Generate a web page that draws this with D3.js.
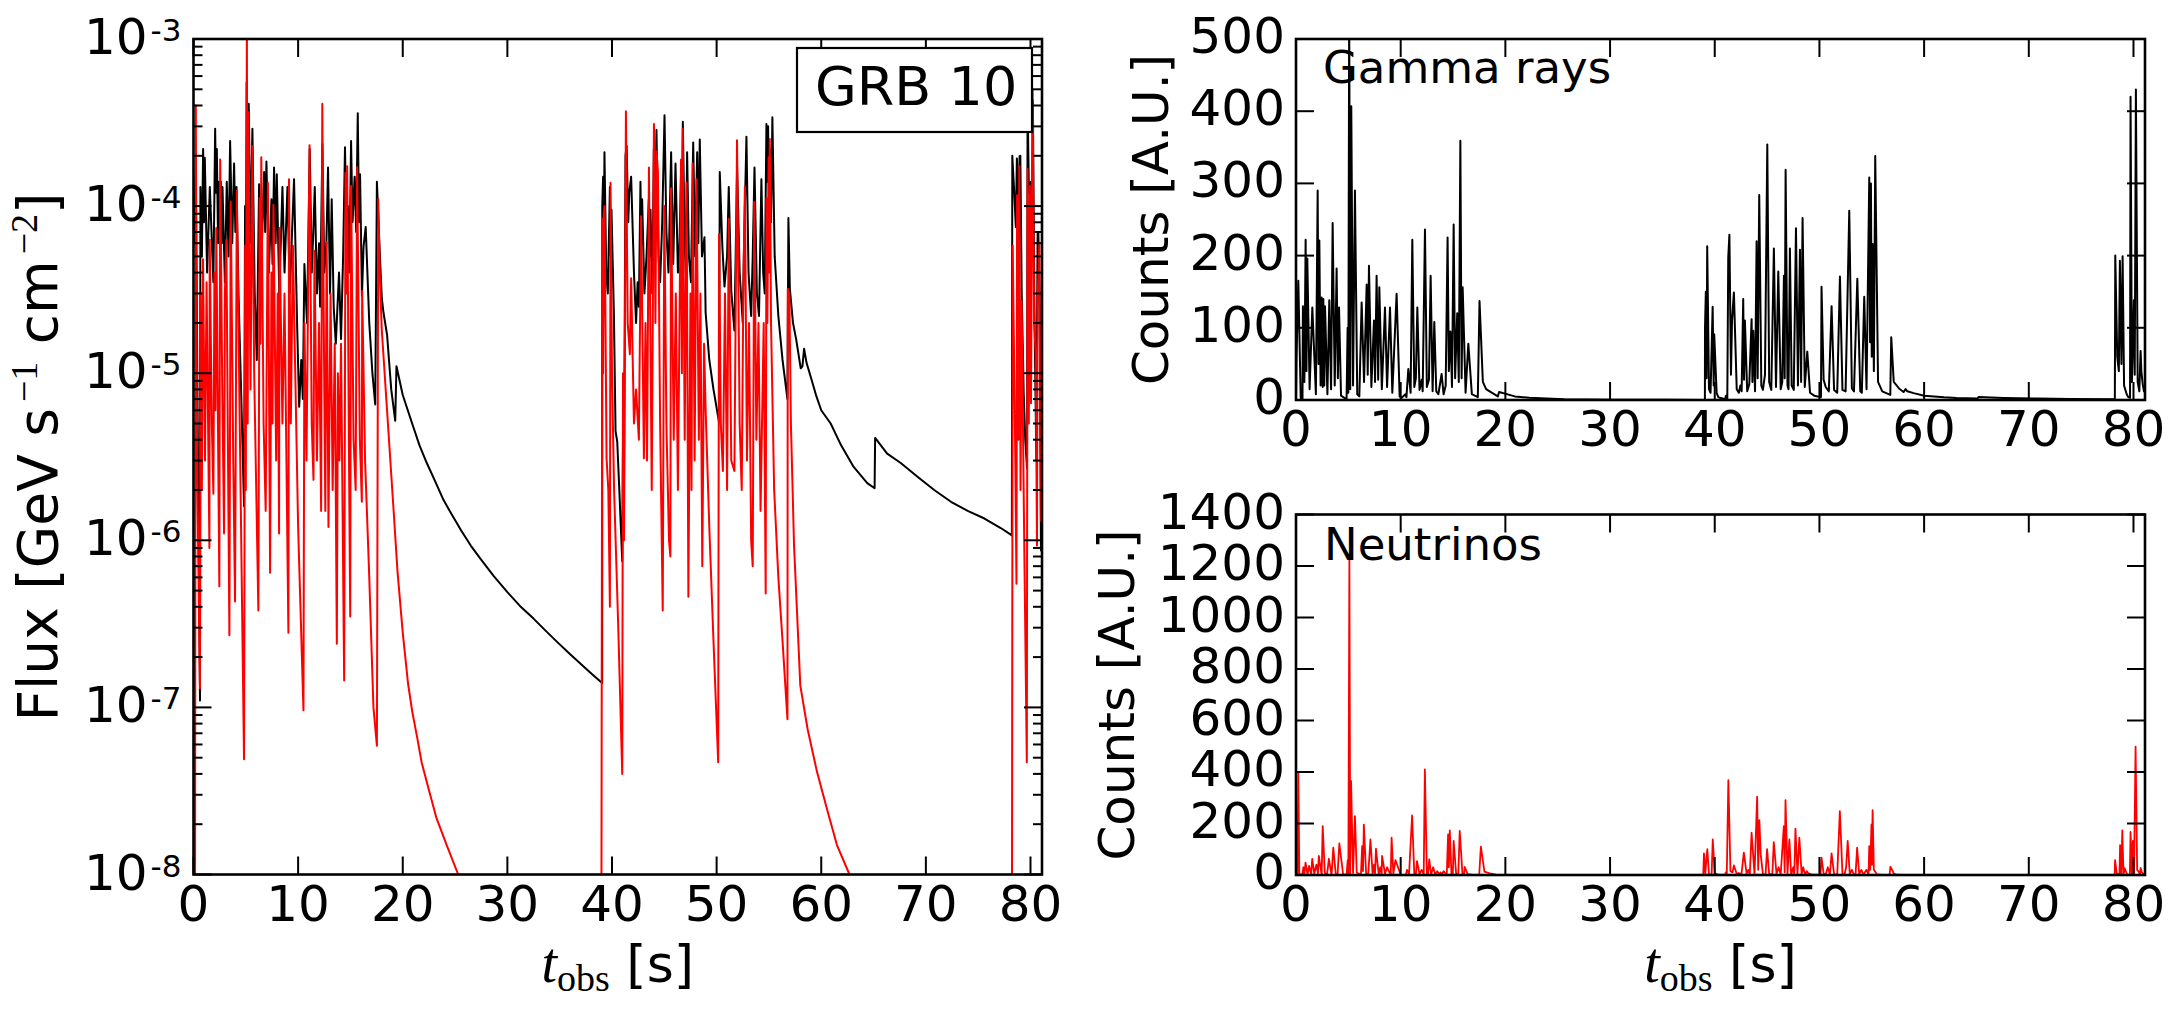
<!DOCTYPE html>
<html><head><meta charset="utf-8">
<script src="https://cdn.jsdelivr.net/npm/d3@7"></script>
<style>body{margin:0;background:#fff}svg{display:block}</style>
</head><body>
<svg id="c" width="2181" height="1011"></svg>
<script>
// ---------- tick definitions ----------
const xTicks = [0,10,20,30,40,50,60,70,80];
const fluxExps = [-8,-7,-6,-5,-4,-3];
const gammaTicks = [0,100,200,300,400,500];
const nuTicks = [0,200,400,600,800,1000,1200,1400];
const xMax = 81.1;

// ---------- left panel: gamma-ray flux (black), [t_obs, GeV s^-1 cm^-2] ----------
const gammaFlux = [
[0.05,6e-5],[0.22,1.65e-4],[0.45,2e-6],[0.62,1.1e-7],[0.66,1.3e-4],[0.8,5e-5],[0.92,2.2e-4],[1.0,8e-5],[1.08,1.95e-4],[1.3,4e-5],[1.56,1.3e-4],[1.9,3.5e-5],[2.07,2.9e-4],[2.15,1.2e-4],[2.23,2.2e-4],[2.35,6e-5],[2.45,1.4e-4],[2.55,5e-5],[2.61,1.4e-4],[2.7,6e-5],[2.77,1.3e-4],[3.0,3.5e-5],[3.18,1.4e-4],[3.35,5e-5],[3.5,2.45e-4],[3.7,6e-5],[3.88,1.8e-4],[4.0,7e-5],[4.11,1.3e-4],[4.3,3e-5],[4.6,6e-6],[4.83,1.6e-6],[4.93,1.0e-4],[5.0,3e-5],[5.08,5.5e-4],[5.18,5e-5],[5.28,4.1e-4],[5.45,6e-5],[5.63,2.9e-4],[5.85,3e-5],[6.05,1.2e-5],[6.27,1.35e-4],[6.5,5e-5],[6.75,1.6e-4],[6.85,7e-5],[6.97,1.85e-4],[7.2,4e-5],[7.45,1.1e-4],[7.55,4.5e-5],[7.7,1.7e-4],[7.85,6e-5],[7.96,1.55e-4],[8.2,3e-5],[8.5,1.3e-4],[8.7,4e-5],[8.98,1.3e-4],[9.2,3e-5],[9.61,1.45e-4],[9.9,2e-5],[10.1,6.3e-6],[10.3,1.2e-5],[10.45,7e-6],[10.6,4.5e-5],[10.85,2e-5],[11.11,2.2e-4],[11.3,4e-5],[11.45,7e-5],[11.59,1.3e-4],[11.8,3e-5],[12.0,6e-5],[12.1,2.5e-5],[12.32,2.35e-4],[12.5,4e-5],[12.7,6e-5],[12.86,1.7e-4],[13.05,3e-5],[13.21,1.1e-4],[13.4,2.5e-5],[13.6,1.5e-5],[13.91,4e-5],[14.1,1.6e-5],[14.3,5e-5],[14.48,2.25e-4],[14.6,8e-5],[14.75,1.0e-4],[14.9,4e-5],[15.06,2.45e-4],[15.2,8e-5],[15.4,1.5e-4],[15.55,7e-5],[15.7,3.6e-4],[15.82,8e-5],[15.92,1.55e-4],[16.1,2.9e-5],[16.25,5.7e-5],[16.46,7.5e-5],[16.8,2e-5],[17.1,1e-5],[17.37,6.5e-6],[17.53,1.4e-4],[17.85,4.5e-5],[18.0,2.8e-5],[18.16,2.3e-5],[18.5,1.7e-5],[18.9,8e-6],[19.28,5.2e-6],[19.4,1.1e-5],[20.0,7.4e-6],[20.9,5e-6],[21.6,3.7e-6],[22.3,2.9e-6],[23.1,2.25e-6],[23.9,1.74e-6],[24.7,1.42e-6],[25.6,1.14e-6],[26.5,9.3e-7],[27.4,7.8e-7],[28.7,6.1e-7],[30.0,4.9e-7],[31.2,4.05e-7],[32.5,3.4e-7],[33.6,2.9e-7],[34.8,2.45e-7],[36.0,2.08e-7],[37.1,1.8e-7],[38.1,1.58e-7],[39.06,1.4e-7],
[39.07,1.0e-4],[39.15,1.5e-4],[39.22,6e-5],[39.28,2.1e-4],[39.45,4e-5],[39.6,3e-5],[39.8,1.3e-4],[39.88,5e-5],[39.95,9.5e-5],[40.18,2.3e-5],[40.34,4.5e-6],[40.5,3.9e-6],[40.7,2e-6],[40.98,7.5e-7],[41.07,6e-6],[41.15,2.5e-6],[41.29,2.0e-4],[41.4,2.3e-4],[41.55,8e-5],[41.65,1.2e-4],[41.83,1.5e-4],[42.1,4e-5],[42.3,2e-5],[42.45,3.5e-5],[42.57,2.5e-5],[42.72,1.4e-4],[42.8,6e-5],[42.88,1.1e-4],[43.1,3e-5],[43.3,5e-5],[43.52,1.1e-4],[43.6,5e-5],[43.68,9.5e-5],[43.85,3e-5],[44.0,2.2e-4],[44.1,7e-5],[44.25,2.85e-4],[44.45,5e-5],[44.6,3.5e-5],[44.8,8e-5],[45.02,3.5e-4],[45.2,7e-5],[45.4,4e-5],[45.65,2.1e-4],[45.85,4.5e-5],[46.07,1.8e-4],[46.3,4e-5],[46.45,6e-5],[46.61,1.7e-4],[46.68,7e-5],[46.77,3.2e-4],[46.95,6e-5],[47.05,4e-5],[47.18,2.1e-4],[47.35,5e-5],[47.55,3.5e-5],[47.76,2.4e-4],[47.95,5e-5],[48.14,2.1e-4],[48.25,6e-5],[48.39,2.5e-4],[48.6,5e-5],[48.84,6.5e-5],[48.95,2.3e-5],[49.3,1.2e-5],[49.7,8e-6],[50.23,5.1e-6],[50.3,1.6e-4],[50.55,5.7e-5],[50.75,3.3e-5],[51.0,5e-5],[51.16,1.3e-4],[51.4,3.1e-5],[51.7,1.8e-5],[51.96,1.7e-4],[52.2,4e-5],[52.5,2e-5],[52.6,5e-5],[52.85,2.6e-4],[53.05,4e-5],[53.3,2.2e-5],[53.45,5e-5],[53.62,1.7e-4],[53.85,3e-5],[54.05,2.2e-5],[54.28,1.45e-4],[54.45,4e-5],[54.6,3e-5],[54.76,3.1e-4],[54.84,1.4e-4],[54.92,3.0e-4],[55.0,1.1e-4],[55.08,2.2e-4],[55.2,8e-5],[55.33,3.4e-4],[55.55,5e-5],[55.9,2.2e-5],[56.3,1.2e-5],[56.77,7e-6],[56.86,8.5e-5],[57.0,3.2e-5],[57.3,2e-5],[57.6,1.6e-5],[58.04,1.07e-5],[58.2,1.1e-5],[58.36,1.4e-5],[58.6,1.15e-5],[59.0,9.5e-6],[59.5,7.4e-6],[60.0,6e-6],[60.9,5e-6],[61.9,3.7e-6],[63.1,2.75e-6],[64.4,2.2e-6],[65.1,2.05e-6],[65.15,4.1e-6],[66.3,3.3e-6],[67.6,2.9e-6],[69.2,2.4e-6],[70.8,2.0e-6],[72.4,1.7e-6],[74.0,1.5e-6],[75.6,1.35e-6],[77.2,1.18e-6],[78.22,1.07e-6],
[78.26,2.0e-4],[78.45,1.2e-4],[78.6,7.5e-5],[78.7,1.93e-4],[78.85,1.0e-4],[78.96,1.99e-4],[79.03,2e-4],[79.16,3e-5],[79.35,7.6e-6],[79.5,4e-6],[79.67,2.7e-6],[79.72,4.2e-4],[79.85,1.2e-4],[80.04,1.4e-4],[80.12,6e-5],[80.23,4.3e-4],[80.37,2.5e-5],[80.56,3e-6],[80.68,6.8e-5],[80.75,7e-5],[80.88,2.5e-5],[81.0,8.7e-7],[81.1,5e-6]
];

// ---------- left panel: neutrino flux (red) ----------
const nuFlux = [
[0.0,1e-10],[0.14,2e-9],[0.22,4.0e-4],[0.35,3e-6],[0.5,5e-7],[0.62,1.3e-7],[0.68,3e-5],[0.8,2e-6],[0.91,4.8e-5],[1.1,3e-6],[1.25,3.5e-5],[1.52,9e-7],[1.55,6.3e-5],[1.75,5e-6],[1.9,1.9e-6],[2.0,4e-5],[2.1,6e-6],[2.18,7.4e-5],[2.47,5.3e-7],[2.55,1.9e-4],[2.75,8e-6],[2.92,1.1e-6],[3.0,3e-5],[3.14,6.3e-5],[3.43,2.7e-7],[3.56,1.06e-4],[3.8,3e-6],[3.97,4.3e-7],[4.14,1.23e-4],[4.5,2e-6],[4.83,4.9e-8],[4.94,5.8e-5],[5.0,2e-6],[5.1,1.24e-3],[5.18,5e-6],[5.26,3.65e-4],[5.45,8e-6],[5.63,2.29e-4],[5.8,1e-5],[6.2,3.8e-7],[6.32,1.12e-4],[6.4,1.5e-5],[6.48,1.96e-4],[6.7,5e-6],[6.9,1.5e-6],[7.11,1.38e-4],[7.32,6.4e-7],[7.45,4e-5],[7.55,5e-6],[7.64,1.02e-4],[7.9,3e-6],[8.05,3e-5],[8.18,1.1e-6],[8.22,7.4e-5],[8.5,5e-6],[8.7,3e-5],[9.07,2.8e-7],[9.13,1.45e-4],[9.3,5e-6],[9.5,5.8e-5],[10.0,1.2e-6],[10.51,9.6e-8],[10.6,2e-5],[10.8,3e-6],[11.09,2.31e-4],[11.3,5e-6],[11.47,2.3e-6],[11.56,5.4e-5],[11.8,3e-6],[12.0,2e-5],[12.2,1.5e-6],[12.31,4.1e-4],[12.5,8e-6],[12.6,1.5e-6],[12.73,6.1e-5],[12.9,1.2e-6],[13.1,3e-5],[13.3,2e-6],[13.5,1.5e-5],[13.7,2.4e-7],[13.8,1e-5],[13.95,3e-6],[14.1,1.5e-5],[14.4,1.45e-7],[14.53,1.58e-4],[14.6,3e-5],[14.69,1.73e-4],[14.85,4e-6],[14.98,3.5e-7],[15.06,1.32e-4],[15.3,4e-6],[15.5,2e-6],[15.64,1.71e-4],[15.9,4e-6],[16.09,1.7e-6],[16.12,3.1e-5],[16.4,3e-6],[16.8,6e-7],[17.2,1e-7],[17.53,5.9e-8],[17.66,1.1e-4],[17.8,4e-5],[18.0,1.8e-5],[18.5,6e-6],[19.1,1.6e-6],[19.5,6.5e-7],[20.0,2.8e-7],[20.5,1.4e-7],[20.9,9.5e-8],[21.4,6.5e-8],[21.8,4.7e-8],[22.5,3.2e-8],[23.2,2.2e-8],[24.2,1.5e-8],[25.3,1e-8],[27.0,5e-9],[38.95,1e-10],
[39.08,8.4e-5],[39.15,1e-5],[39.22,9e-5],[39.29,1.0e-4],[39.48,3.1e-6],[39.65,2e-6],[39.8,4e-7],[39.86,1.38e-4],[40.0,1e-5],[40.2,2e-6],[40.6,3e-7],[40.98,4e-8],[41.05,1e-5],[41.15,1e-6],[41.33,3.7e-4],[41.5,2e-5],[41.71,1.3e-5],[41.83,3.7e-5],[42.1,5e-6],[42.3,8e-6],[42.57,4e-6],[42.78,8.7e-5],[43.05,3.1e-6],[43.2,2e-5],[43.35,3e-6],[43.53,1.7e-4],[43.8,2e-6],[44.01,3.1e-4],[44.15,2e-5],[44.26,2.13e-4],[44.39,1.6e-4],[44.6,5e-6],[44.85,3.8e-7],[45.0,1.0e-4],[45.2,5e-6],[45.45,1e-6],[45.58,8e-7],[45.64,1.28e-4],[45.9,4e-6],[46.1,3e-5],[46.3,2e-6],[46.6,1.9e-4],[46.68,1e-5],[46.76,2.9e-4],[46.95,4e-6],[47.13,1.38e-4],[47.3,4.6e-7],[47.5,3e-5],[47.6,2e-6],[47.71,1.8e-4],[47.9,3e-6],[48.08,1.45e-4],[48.3,4e-6],[48.45,3e-5],[48.63,7e-7],[48.8,1.5e-5],[48.95,6e-6],[49.3,1.2e-6],[49.7,2.5e-7],[50.15,4.7e-8],[50.23,6.8e-5],[50.4,5e-6],[50.6,2.6e-6],[50.8,3e-5],[51.0,2e-6],[51.16,8.4e-5],[51.4,3e-6],[51.7,2.6e-6],[51.95,2.48e-4],[52.2,5e-6],[52.4,2e-6],[52.55,3e-5],[52.7,1.32e-4],[52.9,3e-6],[53.1,2e-5],[53.3,1e-6],[53.45,7e-7],[53.6,1.06e-4],[53.8,4e-6],[54.0,2e-5],[54.2,1.5e-6],[54.5,2e-5],[54.69,4.8e-7],[54.76,1.12e-4],[54.85,2e-5],[54.97,1.96e-4],[55.02,4e-5],[55.08,2.52e-4],[55.2,2e-5],[55.5,2e-6],[55.9,6e-7],[56.3,2.5e-7],[56.77,8.5e-8],[56.8,3.2e-5],[56.95,3.0e-5],[57.1,5e-6],[57.4,9.3e-7],[58.0,1.35e-7],[58.7,7.4e-8],[59.6,4.1e-8],[60.6,2.4e-8],[61.5,1.5e-8],[62.7,1e-8],[64.0,5e-9],[78.2,1e-10],
[78.3,5.8e-5],[78.55,3e-6],[78.66,5.5e-7],[78.72,1.16e-4],[78.84,4e-6],[78.93,1.73e-4],[79.05,2e-6],[79.15,2.7e-5],[79.4,1e-6],[79.65,4.7e-8],[79.72,1.67e-4],[79.84,5e-6],[79.94,1.32e-4],[80.05,6.6e-6],[80.2,4.98e-4],[80.35,2e-5],[80.5,1.3e-5],[80.62,9.3e-7],[80.68,2.8e-5],[80.85,6e-5],[81.0,1.3e-6],[81.1,5e-6]
];

// ---------- right top: gamma-ray counts [t_obs, A.U.] ----------
const gammaCounts = [
[0.0,0],[0.05,60],[0.22,165],[0.45,3],[0.62,0],[0.66,130],[0.8,25],[0.92,222],[1.0,40],[1.08,196],[1.3,15],[1.56,128],[1.9,8],[2.07,290],[2.15,50],[2.23,221],[2.35,20],[2.45,142],[2.55,18],[2.61,140],[2.7,20],[2.77,130],[3.0,8],[3.18,138],[3.35,15],[3.5,245],[3.7,20],[3.88,182],[4.0,30],[4.11,128],[4.3,6],[4.83,1],[4.93,100],[5.0,10],[5.08,550],[5.18,15],[5.28,407],[5.45,20],[5.63,290],[5.85,8],[6.05,5],[6.27,135],[6.5,25],[6.75,160],[6.85,35],[6.97,186],[7.2,18],[7.45,110],[7.55,25],[7.7,172],[7.85,28],[7.96,156],[8.2,15],[8.5,128],[8.7,18],[8.98,128],[9.2,10],[9.61,147],[9.9,5],[10.1,3],[10.45,8],[10.55,4],[10.73,43],[10.95,10],[11.11,222],[11.3,18],[11.45,30],[11.59,128],[11.8,14],[12.0,28],[12.1,12],[12.32,236],[12.5,18],[12.7,28],[12.86,172],[13.05,12],[13.21,108],[13.4,12],[13.6,8],[13.91,36],[14.1,8],[14.3,20],[14.48,225],[14.6,40],[14.75,95],[14.9,18],[15.06,243],[15.2,30],[15.4,120],[15.55,25],[15.7,359],[15.82,30],[15.92,156],[16.2,10],[16.46,78],[16.8,8],[17.37,4],[17.53,137],[17.85,25],[18.16,15],[18.5,12],[19.28,5],[19.4,11],[20.9,5],[22.3,3],[25.6,1.2],[30.0,0.5],[35.0,0.3],[39.06,0.14],
[39.07,100],[39.15,150],[39.22,30],[39.28,213],[39.45,15],[39.6,10],[39.8,129],[39.9,20],[39.95,91],[40.18,10],[40.34,4],[40.5,3],[40.98,1],[41.07,6],[41.2,2],[41.29,197],[41.4,229],[41.55,35],[41.65,110],[41.83,149],[42.1,15],[42.3,10],[42.45,20],[42.57,12],[42.72,140],[42.8,28],[42.88,110],[43.1,12],[43.3,22],[43.52,112],[43.6,25],[43.68,96],[43.85,12],[44.0,220],[44.1,30],[44.25,284],[44.45,20],[44.6,14],[44.8,35],[45.02,354],[45.2,25],[45.4,14],[45.65,210],[45.85,18],[46.07,178],[46.3,15],[46.45,25],[46.61,172],[46.68,30],[46.77,319],[46.95,20],[47.05,15],[47.18,210],[47.35,20],[47.55,14],[47.76,238],[47.95,20],[48.14,208],[48.25,25],[48.39,252],[48.6,18],[48.84,67],[49.1,10],[49.5,6],[50.15,4],[50.2,157],[50.4,28],[50.6,18],[50.9,12],[51.16,130],[51.4,14],[51.7,10],[51.96,171],[52.2,14],[52.5,12],[52.85,262],[53.1,16],[53.3,12],[53.62,168],[53.9,12],[54.05,10],[54.28,143],[54.5,15],[54.76,308],[54.84,80],[54.92,300],[55.0,60],[55.08,216],[55.2,40],[55.33,338],[55.6,25],[56.0,12],[56.77,7],[56.86,87],[57.1,25],[57.6,16],[58.04,11],[58.23,15],[58.4,12],[59.0,9.5],[60.0,6],[61.9,3.7],[63.1,2.75],[65.1,2.05],[65.2,4.1],[67.6,2.9],[70.8,2.0],[74.0,1.5],[78.22,1.07],
[78.26,200],[78.45,60],[78.6,40],[78.7,193],[78.85,50],[78.96,199],[79.1,20],[79.35,8],[79.5,4],[79.67,3],[79.72,420],[79.85,25],[80.04,138],[80.12,35],[80.23,430],[80.4,25],[80.56,12],[80.68,68],[80.75,40],[80.88,22],[81.0,12],[81.1,20]
];

// ---------- right bottom: neutrino counts [t_obs, A.U.] ----------
const nuCounts = [
[0.0,0],[0.14,0],[0.22,397],[0.32,4],[0.6,0],[0.7,30],[0.8,2],[0.91,48],[1.1,3],[1.25,35],[1.45,1],[1.55,63],[1.75,5],[1.95,40],[2.1,6],[2.18,74],[2.45,1],[2.55,190],[2.75,8],[2.95,1],[3.05,30],[3.14,63],[3.4,0],[3.56,106],[3.8,3],[3.97,0],[4.14,123],[4.5,2],[4.83,0],[4.94,58],[5.0,2],[5.1,1237],[5.18,5],[5.26,365],[5.45,8],[5.63,229],[5.8,10],[6.2,0],[6.32,112],[6.4,15],[6.48,196],[6.7,5],[6.9,1.5],[7.11,138],[7.32,1],[7.45,40],[7.55,5],[7.64,102],[7.9,3],[8.05,30],[8.18,1],[8.22,74],[8.5,5],[8.7,30],[9.05,0],[9.13,145],[9.3,5],[9.5,58],[10.0,1],[10.5,0],[10.6,20],[10.8,3],[11.09,231],[11.3,5],[11.45,2],[11.56,54],[11.8,3],[12.0,20],[12.2,1.5],[12.31,410],[12.5,8],[12.6,1.5],[12.73,61],[12.9,1],[13.1,30],[13.3,2],[13.5,15],[13.7,0],[13.8,10],[13.95,3],[14.1,15],[14.4,0],[14.53,158],[14.6,30],[14.69,173],[14.85,4],[14.98,0],[15.06,132],[15.3,4],[15.5,2],[15.64,171],[15.9,4],[16.05,2],[16.12,31],[16.4,3],[16.8,1],[17.5,0],[17.66,110],[18.0,13],[18.5,6],[19.1,1.3],[20.0,0.3],[21.0,0],[38.9,0],
[38.97,84],[39.1,5],[39.2,60],[39.29,100],[39.45,3],[39.7,0],[39.81,138],[40.0,8],[40.3,1],[41.0,0],[41.05,10],[41.15,1],[41.3,368],[41.5,15],[41.7,10],[41.83,37],[42.1,4],[42.3,8],[42.55,3],[42.78,87],[43.05,3],[43.2,20],[43.35,3],[43.52,164],[43.8,2],[44.05,304],[44.15,20],[44.26,213],[44.39,80],[44.6,4],[44.85,0],[45.0,100],[45.2,4],[45.5,1],[45.64,128],[45.9,4],[46.1,30],[46.3,2],[46.6,190],[46.68,10],[46.76,291],[46.95,4],[47.13,138],[47.3,0],[47.5,30],[47.6,2],[47.71,180],[47.9,3],[48.08,145],[48.3,4],[48.45,30],[48.63,1],[48.8,15],[48.95,6],[49.3,1],[50.1,0],[50.2,67],[50.4,5],[50.6,2],[50.8,30],[51.0,2],[51.16,84],[51.4,3],[51.7,2],[51.95,248],[52.2,5],[52.4,2],[52.55,30],[52.7,132],[52.9,3],[53.1,20],[53.3,1],[53.45,0],[53.6,106],[53.8,4],[54.0,20],[54.2,1.5],[54.5,20],[54.69,0],[54.76,112],[54.85,20],[54.97,196],[55.02,40],[55.08,252],[55.2,20],[55.5,2],[56.0,0],[56.7,0],[56.78,32],[56.95,20],[57.1,5],[57.4,1],[58.0,0],[78.2,0],
[78.24,58],[78.4,5],[78.6,3],[78.66,0],[78.72,116],[78.84,4],[78.93,173],[79.05,2],[79.15,27],[79.4,1],[79.65,0],[79.72,167],[79.84,5],[79.94,132],[80.05,7],[80.2,498],[80.35,20],[80.5,13],[80.62,1],[80.68,28],[80.8,10],[81.0,1],[81.1,5]
];

// ---------- drawing ----------
const svg = d3.select('#c');
const FONT = "'DejaVu Sans', sans-serif";
const SERIF = "'Liberation Serif', serif";
const TICK_FS = 50, MAJ = 18, MIN = 9;

const L  = {x0:193.5, x1:1042, y0:39,    y1:874.5};
const RT = {x0:1296,  x1:2145, y0:39,    y1:400};
const RB = {x0:1296,  x1:2145, y0:514.5, y1:875};

function clip(id, p){
  svg.append('clipPath').attr('id', id).append('rect')
    .attr('x', p.x0).attr('y', p.y0).attr('width', p.x1-p.x0).attr('height', p.y1-p.y0);
}
function xAxes(p, x){
  const g = svg.append('g').attr('stroke','#000').attr('stroke-width',2);
  xTicks.forEach(v=>{
    g.append('line').attr('x1',x(v)).attr('x2',x(v)).attr('y1',p.y1).attr('y2',p.y1-MAJ);
    g.append('line').attr('x1',x(v)).attr('x2',x(v)).attr('y1',p.y0).attr('y2',p.y0+MAJ);
    svg.append('text').attr('x',x(v)).attr('y',p.y1+46).attr('text-anchor','middle')
      .attr('font-family',FONT).attr('font-size',TICK_FS).text(v);
  });
}
function yMajor(p, y, vals){
  const g = svg.append('g').attr('stroke','#000').attr('stroke-width',2);
  vals.forEach(v=>{
    g.append('line').attr('x1',p.x0).attr('x2',p.x0+MAJ).attr('y1',y(v)).attr('y2',y(v));
    g.append('line').attr('x1',p.x1).attr('x2',p.x1-MAJ).attr('y1',y(v)).attr('y2',y(v));
  });
}
function frame(p){
  svg.append('rect').attr('x',p.x0).attr('y',p.y0).attr('width',p.x1-p.x0).attr('height',p.y1-p.y0)
    .attr('fill','none').attr('stroke','#000').attr('stroke-width',2.6);
}
function xLabel(cx, yb){
  const t = svg.append('text').attr('x',cx).attr('y',yb).attr('text-anchor','middle');
  t.append('tspan').attr('font-family',SERIF).attr('font-style','italic').attr('font-size',56).text('t');
  t.append('tspan').attr('font-family',SERIF).attr('font-size',38).attr('dy',9).text('obs');
  t.append('tspan').attr('font-family',FONT).attr('font-size',52).attr('dy',-9).text('\u00a0[s]');
}

// ===== Left panel =====
const xL = d3.scaleLinear().domain([0,xMax]).range([L.x0,L.x1]);
const yL = d3.scaleLog().domain([1e-8,1e-3]).range([L.y1,L.y0]);
clip('clipL', L);
const lineL = d3.line().x(d=>xL(d[0])).y(d=>yL(Math.max(d[1],1e-12)));
const gL = svg.append('g').attr('clip-path','url(#clipL)');
gL.append('path').datum(gammaFlux).attr('d',lineL).attr('fill','none').attr('stroke','#000')
  .attr('stroke-width',2).attr('stroke-linejoin','round');
gL.append('path').datum(nuFlux).attr('d',lineL).attr('fill','none').attr('stroke','#ff0000')
  .attr('stroke-width',2).attr('stroke-linejoin','round');

{
  const g = svg.append('g').attr('stroke','#000').attr('stroke-width',2);
  fluxExps.forEach(e=>{
    const v = Math.pow(10,e);
    g.append('line').attr('x1',L.x0).attr('x2',L.x0+MAJ).attr('y1',yL(v)).attr('y2',yL(v));
    g.append('line').attr('x1',L.x1).attr('x2',L.x1-MAJ).attr('y1',yL(v)).attr('y2',yL(v));
    if (e < -3) for (let k=2;k<=9;k++){
      const m = k*v;
      g.append('line').attr('x1',L.x0).attr('x2',L.x0+MIN).attr('y1',yL(m)).attr('y2',yL(m));
      g.append('line').attr('x1',L.x1).attr('x2',L.x1-MIN).attr('y1',yL(m)).attr('y2',yL(m));
    }
    const t = svg.append('text').attr('x',L.x0-12).attr('y',yL(v)+15).attr('text-anchor','end')
      .attr('font-family',FONT).attr('font-size',TICK_FS);
    t.append('tspan').text('10');
    t.append('tspan').attr('font-size',31).attr('dx',3).attr('dy',-13).text('-' + (-e));
  });
}
xAxes(L, xL);
frame(L);

// label box
svg.append('rect').attr('x',797).attr('y',48).attr('width',235).attr('height',84)
  .attr('fill','#fff').attr('stroke','#000').attr('stroke-width',2.2);
svg.append('text').attr('x',815).attr('y',105).attr('font-family',FONT).attr('font-size',54).text('GRB 10');

// y label (left)
{
  const t = svg.append('text').attr('transform','translate(57,457) rotate(-90)').attr('text-anchor','middle')
    .attr('font-family',FONT).attr('font-size',55);
  t.append('tspan').text('Flux [GeV s');
  t.append('tspan').attr('font-family',SERIF).attr('font-size',38).attr('dx',6).attr('dy',-20).text('\u22121');
  t.append('tspan').attr('dy',20).text(' cm');
  t.append('tspan').attr('font-family',SERIF).attr('font-size',38).attr('dx',6).attr('dy',-20).text('\u22122');
  t.append('tspan').attr('dy',20).text(']');
}
xLabel((L.x0+L.x1)/2, 982);

// ===== Right top =====
const xR = d3.scaleLinear().domain([0,xMax]).range([RT.x0,RT.x1]);
const yRT = d3.scaleLinear().domain([0,500]).range([RT.y1,RT.y0]);
clip('clipRT', RT);
svg.append('g').attr('clip-path','url(#clipRT)').append('path').datum(gammaCounts)
  .attr('d', d3.line().x(d=>xR(d[0])).y(d=>yRT(d[1])))
  .attr('fill','none').attr('stroke','#000').attr('stroke-width',2).attr('stroke-linejoin','round');
yMajor(RT, yRT, gammaTicks);
gammaTicks.forEach(v=>svg.append('text').attr('x',RT.x0-11).attr('y',yRT(v)+14).attr('text-anchor','end')
  .attr('font-family',FONT).attr('font-size',TICK_FS).text(v));
xAxes(RT, xR);
frame(RT);
svg.append('text').attr('x',1323).attr('y',83).attr('font-family',FONT).attr('font-size',45).text('Gamma rays');
svg.append('text').attr('transform','translate(1168,219.5) rotate(-90)').attr('text-anchor','middle')
  .attr('font-family',FONT).attr('font-size',50).text('Counts [A.U.]');

// ===== Right bottom =====
const yRB = d3.scaleLinear().domain([0,1400]).range([RB.y1,RB.y0]);
clip('clipRB', RB);
svg.append('g').attr('clip-path','url(#clipRB)').append('path').datum(nuCounts)
  .attr('d', d3.line().x(d=>xR(d[0])).y(d=>yRB(d[1])))
  .attr('fill','none').attr('stroke','#ff0000').attr('stroke-width',1.8).attr('stroke-linejoin','round');
yMajor(RB, yRB, nuTicks);
nuTicks.forEach(v=>svg.append('text').attr('x',RB.x0-11).attr('y',yRB(v)+14).attr('text-anchor','end')
  .attr('font-family',FONT).attr('font-size',TICK_FS).text(v));
xAxes(RB, xR);
frame(RB);
svg.append('text').attr('x',1324).attr('y',560).attr('font-family',FONT).attr('font-size',45).text('Neutrinos');
svg.append('text').attr('transform','translate(1134,695) rotate(-90)').attr('text-anchor','middle')
  .attr('font-family',FONT).attr('font-size',50).text('Counts [A.U.]');
xLabel((RB.x0+RB.x1)/2, 982);
</script>
</body></html>
